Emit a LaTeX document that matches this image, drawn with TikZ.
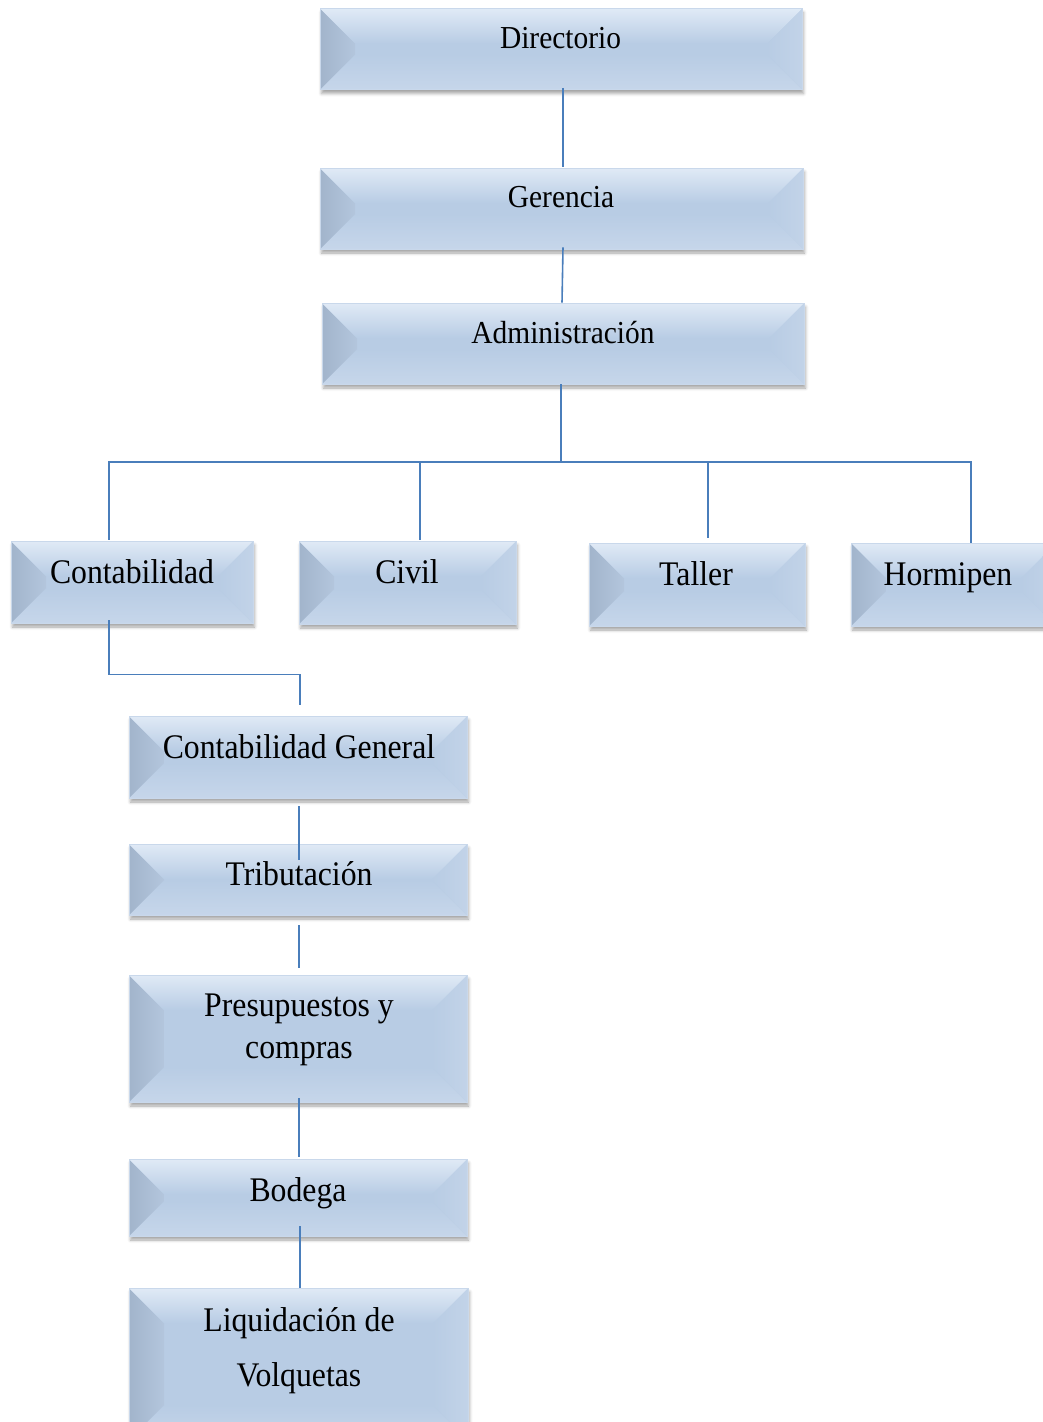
\documentclass[tikz,border=0pt]{standalone}
\usepackage{fontspec}
\setmainfont{Liberation Serif}
\newfontfamily\boxfont[FakeStretch=0.92]{Liberation Serif}
\usetikzlibrary{calc,shadows.blur}

\definecolor{bevbase}{HTML}{B8CCE4}
\definecolor{bevtop}{HTML}{E0EAF6}
\definecolor{bevleft}{HTML}{A2B4CB}
\definecolor{bevleftin}{HTML}{B3C6DD}
\definecolor{bevright}{HTML}{C2D3E8}
\definecolor{bevbot}{HTML}{C6D6EA}
\definecolor{bevedge}{HTML}{C9D8EB}
\definecolor{connblue}{HTML}{4A7EBB}

\tikzset{
  bevbox/.style={rectangle, inner sep=0pt, draw=bevedge, line width=0.6pt,
    blur shadow={shadow xshift=1.5pt, shadow yshift=-4pt,
                 shadow blur radius=3pt, shadow opacity=35},
    path picture={
      \coordinate (pA) at (path picture bounding box.north west);
      \coordinate (pB) at (path picture bounding box.north east);
      \coordinate (pC) at (path picture bounding box.south east);
      \coordinate (pD) at (path picture bounding box.south west);
      \coordinate (iA) at ($(pA)+(35,35)$);
      \coordinate (iB) at ($(pB)+(-35,35)$);
      \coordinate (iC) at ($(pC)+(-35,-35)$);
      \coordinate (iD) at ($(pD)+(35,-35)$);
      \fill[bevbase] (pA) rectangle (pC);
      \shade[top color=bevbase, bottom color=bevbot] (pD) -- (iD) -- (iC) -- (pC) -- cycle;
      \shade[left color=bevleft, right color=bevleftin] (pA) -- (iA) -- (iD) -- (pD) -- cycle;
      \shade[left color=bevbase, right color=bevright] (pB) -- (iB) -- (iC) -- (pC) -- cycle;
      \shade[top color=bevtop, bottom color=bevbase] (pA) -- (pB) -- (iB) -- (iA) -- cycle;
    }},
  lbl/.style={inner sep=0pt, text=black, align=center,
    font=\boxfont\fontsize{34.5}{42}\selectfont},
  lblsmall/.style={lbl, font=\boxfont\fontsize{32}{40}\selectfont},
  conn/.style={draw=connblue, line width=1.6pt},
}

\begin{document}
\begin{tikzpicture}[x=1pt, y=-1pt]
\useasboundingbox (0,0) rectangle (1043,1422);
\clip (0,0) rectangle (1043,1422);

% upper management chain
\node[bevbox, minimum width=482pt, minimum height=81pt] (dir) at (561,49) {};
\node[bevbox, minimum width=483pt, minimum height=81pt] (ger) at (561.5,208.5) {};
\node[bevbox, minimum width=482pt, minimum height=81pt] (adm) at (563,343.5) {};

% departments
\node[bevbox, minimum width=242pt, minimum height=82pt] (cont) at (132,582) {};
\node[bevbox, minimum width=217pt, minimum height=83pt] (civ) at (407.5,582.5) {};
\node[bevbox, minimum width=216pt, minimum height=83pt] (tal) at (697,584.5) {};
\node[bevbox, minimum width=205pt, minimum height=83pt] (horm) at (953.5,584.5) {};

% accounting sections
\node[bevbox, minimum width=338pt, minimum height=82pt] (cg) at (298,757) {};
\node[bevbox, minimum width=338pt, minimum height=71pt] (trib) at (298,879.5) {};
\node[bevbox, minimum width=338pt, minimum height=127pt] (pre) at (298,1038.5) {};
\node[bevbox, minimum width=338pt, minimum height=77pt] (bod) at (298,1197.5) {};
\node[bevbox, minimum width=339pt, minimum height=152pt] (liq) at (298.5,1364) {};

% labels (multi-line labels are placed by their last baseline)
\node[lblsmall, anchor=base] (dir-t) at (560.5,48) {Directorio};
\node[lblsmall, anchor=base] (ger-t) at (561,207) {Gerencia};
\node[lblsmall, anchor=base] (adm-t) at (563,343) {Administración};
\node[lbl, anchor=base] (cont-t) at (132,583) {Contabilidad};
\node[lbl, anchor=base] (civ-t) at (407,583) {Civil};
\node[lbl, anchor=base] (tal-t) at (696,585) {Taller};
\node[lbl, anchor=base] (horm-t) at (948,585) {Hormipen};
\node[lbl, anchor=base] (cg-t) at (299,758) {Contabilidad General};
\node[lbl, anchor=base] (trib-t) at (299,885) {Tributación};
\node[lbl, anchor=base] (pre-t) at (299,1058) {Presupuestos y\\compras};
\node[lbl, anchor=base] (bod-t) at (298,1201) {Bodega};
\node[lbl, anchor=base] (liq-t) at (299,1386) {Liquidación de\\[13pt]Volquetas};

% connectors
\coordinate (bus) at (561,462);
\coordinate (civtop) at ($(civ.north)+(12.5,-1)$);
\coordinate (taltop) at ($(tal.north)+(11,-5)$);
\draw[conn] ($(dir.south)+(2,-2)$) -- ($(ger.north)+(1.5,-1)$);
\draw[conn] ($(ger.south)+(1.5,-2)$) -- ($(adm.north)+(-1,0)$);
\draw[conn] ($(adm.south)+(-2,0)$) -- (bus);
\draw[conn] ($(cont.north)+(-23,-1)$) |- (bus) -| ($(horm.north)+(17.5,0)$);
\draw[conn] (civtop) -- (civtop |- bus);
\draw[conn] (taltop) -- (taltop |- bus);
\draw[conn] ($(cont.south)+(-23,-3)$) -- ++(0,54) -| ($(cg.north)+(2,-11)$);
\draw[conn] ($(cg.south)+(1,8)$) -- ($(trib.north)+(1,16)$);
\draw[conn] ($(trib.south)+(1,10)$) -- ($(pre.north)+(1,-7)$);
\draw[conn] ($(pre.south)+(1,-4)$) -- ($(bod.north)+(1,-2)$);
\draw[conn] ($(bod.south)+(2,-10)$) -- ($(liq.north)+(1.5,0)$);
\end{tikzpicture}
\end{document}
